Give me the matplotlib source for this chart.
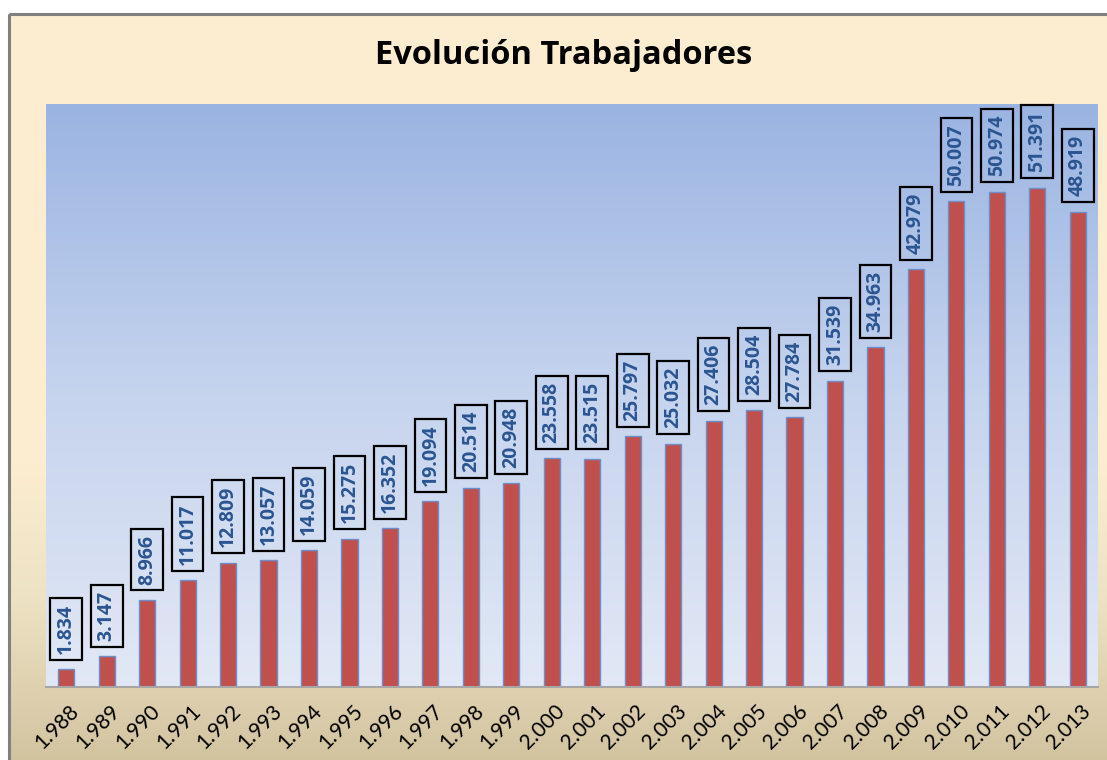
import numpy as np
import matplotlib
matplotlib.use("Agg")
import matplotlib.pyplot as plt
from matplotlib.colors import LinearSegmentedColormap
from matplotlib.patches import Rectangle
import matplotlib.transforms as mtransforms

years = ["1.988", "1.989", "1.990", "1.991", "1.992", "1.993", "1.994", "1.995", "1.996",
         "1.997", "1.998", "1.999", "2.000", "2.001", "2.002", "2.003", "2.004", "2.005",
         "2.006", "2.007", "2.008", "2.009", "2.010", "2.011", "2.012", "2.013"]
workers = [1834, 3147, 8966, 11017, 12809, 13057, 14059, 15275, 16352, 19094, 20514, 20948,
           23558, 23515, 25797, 25032, 27406, 28504, 27784, 31539, 34963, 42979, 50007,
           50974, 51391, 48919]
value_labels = ["1.834", "3.147", "8.966", "11.017", "12.809", "13.057", "14.059", "15.275",
                "16.352", "19.094", "20.514", "20.948", "23.558", "23.515", "25.797", "25.032",
                "27.406", "28.504", "27.784", "31.539", "34.963", "42.979", "50.007", "50.974",
                "51.391", "48.919"]
title = "Evolución Trabajadores"

W, H = 1107, 760
fig = plt.figure(figsize=(W / 100, H / 100), dpi=100)
fig.patch.set_facecolor("white")

# outer background gradient
bg = fig.add_axes([0, 0, 1, 1], zorder=-10)
bg.set_xlim(0, W)
bg.set_ylim(H, 0)
bg.axis("off")
cmap_bg = LinearSegmentedColormap.from_list(
    "bg", [(0.0, "#FDEED2"), (0.6, "#FCEDD0"), (0.78, "#EEE2C4"), (1.0, "#D2C39F")])
grad = np.linspace(0, 1, 256).reshape(-1, 1)
bg.imshow(grad, cmap=cmap_bg, extent=[9, W + 5, H + 5, 14], aspect="auto", zorder=0)
bg.add_patch(Rectangle((8.5, 13.5), W + 10, H + 10, fill=False, edgecolor="#808080",
                       linewidth=2.2, zorder=2))

# plot area
x0, x1, y0, y1 = 46, 1098, 104, 687
ax = fig.add_axes([x0 / W, 1 - y1 / H, (x1 - x0) / W, (y1 - y0) / H])
n = len(workers)
ax.set_xlim(-0.5, n - 0.5)
ax.set_ylim(0, 60000)
cmap_pa = LinearSegmentedColormap.from_list("pa", ["#9AB4E2", "#C6D4EE", "#E2E8F5"])
ax.imshow(np.linspace(0, 1, 256).reshape(-1, 1), cmap=cmap_pa,
          extent=[-0.5, n - 0.5, 0, 60000], aspect="auto", zorder=0)

xs = np.arange(n)
ax.bar(xs, workers, width=0.4, color="#C0504D", edgecolor="#6A8FCB", linewidth=1.0, zorder=2)

for x, v, lab in zip(xs, workers, value_labels):
    ax.annotate(lab, xy=(x, v), xytext=(0, 11), textcoords="offset points",
                rotation=90, ha="center", va="bottom", fontsize=14, fontweight="bold",
                color="#2B5591", family="Open Sans", annotation_clip=False, zorder=4,
                bbox=dict(boxstyle="square,pad=0.3", facecolor="none", edgecolor="black",
                          linewidth=1.6))

for s in ["top", "right", "left"]:
    ax.spines[s].set_visible(False)
ax.spines["bottom"].set_color("#A6A6A6")
ax.spines["bottom"].set_linewidth(1.5)
ax.set_yticks([])
ax.set_xticks(xs)
ax.set_xticklabels(years, rotation=45, ha="right", rotation_mode="anchor",
                   fontsize=15, family="Lato", color="black")
ax.tick_params(axis="x", length=0, pad=10)
offset = mtransforms.ScaledTranslation(2 / 72, 0, fig.dpi_scale_trans)
for lbl in ax.get_xticklabels():
    lbl.set_transform(lbl.get_transform() + offset)

fig.text(564 / W, 1 - 55 / H, title, ha="center", va="center", fontsize=23.5,
         fontweight="bold", family="Open Sans", color="black")

fig.savefig("out.png", dpi=100)
